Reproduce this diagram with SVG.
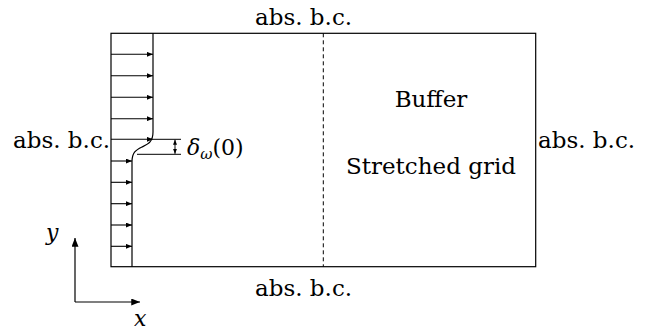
<svg xmlns="http://www.w3.org/2000/svg" width="656" height="331" viewBox="0 0 656 331">
<defs>
<style>
.t{font-family:"DejaVu Serif","Liberation Serif",serif;font-size:23px;fill:#000}
.m{font-family:"DejaVu Serif","Liberation Serif",serif;font-style:italic;fill:#000}
.ln{stroke:#000;stroke-width:1.2;fill:none}
</style>
<marker id="ah" viewBox="0 0 10 8" refX="10" refY="4" markerWidth="6" markerHeight="5" markerUnits="userSpaceOnUse" orient="auto">
<path d="M0,0 L10,4 L0,8 z" fill="#000"/>
</marker>
<marker id="ax" viewBox="0 0 10 8" refX="10" refY="4" markerWidth="10" markerHeight="7" markerUnits="userSpaceOnUse" orient="auto">
<path d="M0,0 L10,4 L0,8 z" fill="#000"/>
</marker>
<marker id="dm" viewBox="0 0 10 8" refX="10" refY="4" markerWidth="5" markerHeight="4" markerUnits="userSpaceOnUse" orient="auto">
<path d="M0,0 L10,4 L0,8 z" fill="#000"/>
</marker>
</defs>
<rect width="656" height="331" fill="#fff"/>
<g id="domain">
<rect x="111" y="33.3" width="424.7" height="233.4" class="ln"/>
<line x1="323.3" y1="33.3" x2="323.3" y2="266.7" stroke="#000" stroke-width="1" stroke-dasharray="4,3"/>
</g>
<g id="profile">
<path class="ln" d="M153,33.3 L153,132 C153,142 148,144 142,147 C136,150 132,152 132,162 L132,266.7"/>
<g stroke="#000" stroke-width="1.1" marker-end="url(#ah)">
<line x1="111" y1="54.3" x2="153" y2="54.3"/>
<line x1="111" y1="75.7" x2="153" y2="75.7"/>
<line x1="111" y1="97.3" x2="153" y2="97.3"/>
<line x1="111" y1="118.7" x2="153" y2="118.7"/>
<line x1="111" y1="139.3" x2="153" y2="139.3"/>
<line x1="111" y1="161" x2="132" y2="161"/>
<line x1="111" y1="182.3" x2="132" y2="182.3"/>
<line x1="111" y1="203.7" x2="132" y2="203.7"/>
<line x1="111" y1="225" x2="132" y2="225"/>
<line x1="111" y1="246.3" x2="132" y2="246.3"/>
</g>
</g>
<g id="thickness">
<line x1="153" y1="139.3" x2="181" y2="139.3" stroke="#000" stroke-width="1"/>
<line x1="137" y1="154.3" x2="181" y2="154.3" stroke="#000" stroke-width="1"/>
<line x1="175" y1="146.8" x2="175" y2="139.8" stroke="#000" stroke-width="1" marker-end="url(#dm)"/>
<line x1="175" y1="146.8" x2="175" y2="153.8" stroke="#000" stroke-width="1" marker-end="url(#dm)"/>
<text x="187" y="155" class="m" font-size="22">δ<tspan font-size="15" dy="4">ω</tspan><tspan dy="-4" font-style="normal">(0)</tspan></text>
</g>
<g id="axes">
<line x1="75" y1="302" x2="75" y2="238" class="ln" marker-end="url(#ax)"/>
<line x1="75" y1="302" x2="140" y2="302" class="ln" marker-end="url(#ax)"/>
<text x="46" y="240" class="m" font-size="22">y</text>
<text x="134" y="326" class="m" font-size="22">x</text>
</g>
<g id="labels">
<text x="255" y="25" class="t">abs. b.c.</text>
<text x="255" y="296" class="t">abs. b.c.</text>
<text x="13" y="148" class="t">abs. b.c.</text>
<text x="538" y="148" class="t">abs. b.c.</text>
<text x="431" y="107" class="t" font-size="24" text-anchor="middle">Buffer</text>
<text x="431" y="174" class="t" font-size="24" text-anchor="middle">Stretched grid</text>
</g>
</svg>
